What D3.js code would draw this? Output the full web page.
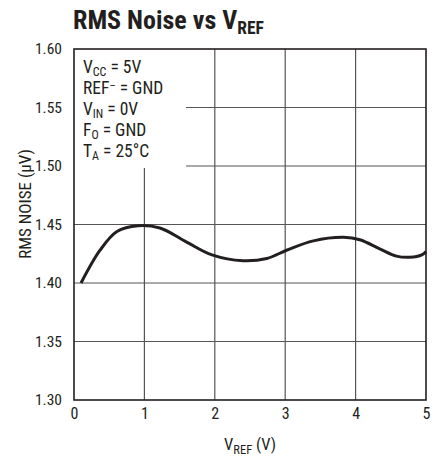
<!DOCTYPE html>
<html>
<head>
<meta charset="utf-8">
<script src="https://cdn.jsdelivr.net/npm/d3@7"></script>
<style>
  body { margin: 0; background: #fff; }
  svg text { font-family: "Liberation Sans Narrow", "Roboto Condensed", "Liberation Sans", sans-serif; fill: #231f20; }
</style>
</head>
<body>
<svg id="chart" width="432" height="460"></svg>
<script>
// values
var vref = [0.1, 0.37, 0.61, 0.91, 1.22, 1.6, 1.96, 2.4, 2.74, 3.02, 3.4, 3.83, 4.06, 4.35, 4.58, 4.77, 4.94, 5.0];
var noise = [1.400, 1.428, 1.444, 1.449, 1.447, 1.435, 1.424, 1.419, 1.421, 1.428, 1.436, 1.439, 1.437, 1.429, 1.423, 1.422, 1.424, 1.427];
var xTicks = [0, 1, 2, 3, 4, 5];
var yTicks = [1.30, 1.35, 1.40, 1.45, 1.50, 1.55, 1.60];

var margin = {top: 49, left: 74, right: 6, bottom: 60};
var w = 432 - margin.left - margin.right;
var h = 460 - margin.top - margin.bottom;

var svg = d3.select("#chart");
var g = svg.append("g").attr("transform", "translate(" + margin.left + "," + margin.top + ")");

var x = d3.scaleLinear().domain([0, 5]).range([0, w]);
var y = d3.scaleLinear().domain([1.30, 1.60]).range([h, 0]);

// grid
g.append("g")
  .selectAll("line")
  .data(xTicks.slice(1, -1))
  .enter().append("line")
  .attr("x1", d => x(d)).attr("x2", d => x(d))
  .attr("y1", 0).attr("y2", h)
  .attr("stroke", "#555").attr("stroke-width", 1.2);

g.append("g")
  .selectAll("line")
  .data(yTicks.slice(1, -1))
  .enter().append("line")
  .attr("x1", 0).attr("x2", w)
  .attr("y1", d => y(d)).attr("y2", d => y(d))
  .attr("stroke", "#555").attr("stroke-width", 1.2);

// axes labels
var yAxis = d3.axisLeft(y).tickValues(yTicks).tickFormat(d3.format(".2f")).tickSize(0).tickPadding(12);
var yg = g.append("g").call(yAxis);
yg.select(".domain").remove();
yg.selectAll("text").style("font-size", "15.5px");

var xAxis = d3.axisBottom(x).tickValues(xTicks).tickFormat(d3.format("d")).tickSize(0).tickPadding(8);
var xg = g.append("g").attr("transform", "translate(0," + h + ")").call(xAxis);
xg.select(".domain").remove();
xg.selectAll("text").style("font-size", "16px");

// conditions box
g.append("rect")
  .attr("x", 0).attr("y", 0)
  .attr("width", 112).attr("height", 119)
  .attr("fill", "#fff");

var cond = [
  ["V", "CC", " = 5V"],
  ["REF", "\u2013", " = GND"],
  ["V", "IN", " = 0V"],
  ["F", "O", " = GND"],
  ["T", "A", " = 25\u00B0C"]
];
cond.forEach(function(c, i) {
  var t = g.append("text")
    .attr("x", 9).attr("y", 24 + i * 21)
    .style("font-size", "17.5px");
  t.append("tspan").text(c[0]);
  if (c[1] === "\u2013") {
    t.append("tspan").attr("dy", -5).style("font-size", "11px").text("\u2013");
    t.append("tspan").attr("dy", 5).text(c[2]);
  } else {
    t.append("tspan").attr("dy", 2.5).style("font-size", "12px").text(c[1]);
    t.append("tspan").attr("dy", -2.5).text(c[2]);
  }
});

// border
g.append("rect")
  .attr("x", 0).attr("y", 0).attr("width", w).attr("height", h)
  .attr("fill", "none").attr("stroke", "#231f20").attr("stroke-width", 1.6);

// curve
var line = d3.line()
  .x((d, i) => x(vref[i]))
  .y(d => y(d))
  .curve(d3.curveCatmullRom.alpha(0.5));

g.append("path")
  .datum(noise)
  .attr("d", line)
  .attr("fill", "none")
  .attr("stroke", "#231f20")
  .attr("stroke-width", 3);

// title
var title = svg.append("text")
  .attr("x", 73).attr("y", 29)
  .style("font-size", "26px").style("font-weight", "bold");
title.append("tspan").text("RMS Noise vs V");
title.append("tspan").attr("dy", 5).style("font-size", "17.5px").text("REF");

// axis titles
var xt = svg.append("text")
  .attr("x", 250).attr("y", 450)
  .attr("text-anchor", "middle")
  .style("font-size", "16.5px");
xt.append("tspan").text("V");
xt.append("tspan").attr("dy", 4).style("font-size", "12.5px").text("REF");
xt.append("tspan").attr("dy", -4).text(" (V)");

svg.append("text")
  .attr("transform", "translate(31,204) rotate(-90)")
  .attr("text-anchor", "middle")
  .style("font-size", "17px")
  .text("RMS NOISE (\u00B5V)");
</script>
</body>
</html>
